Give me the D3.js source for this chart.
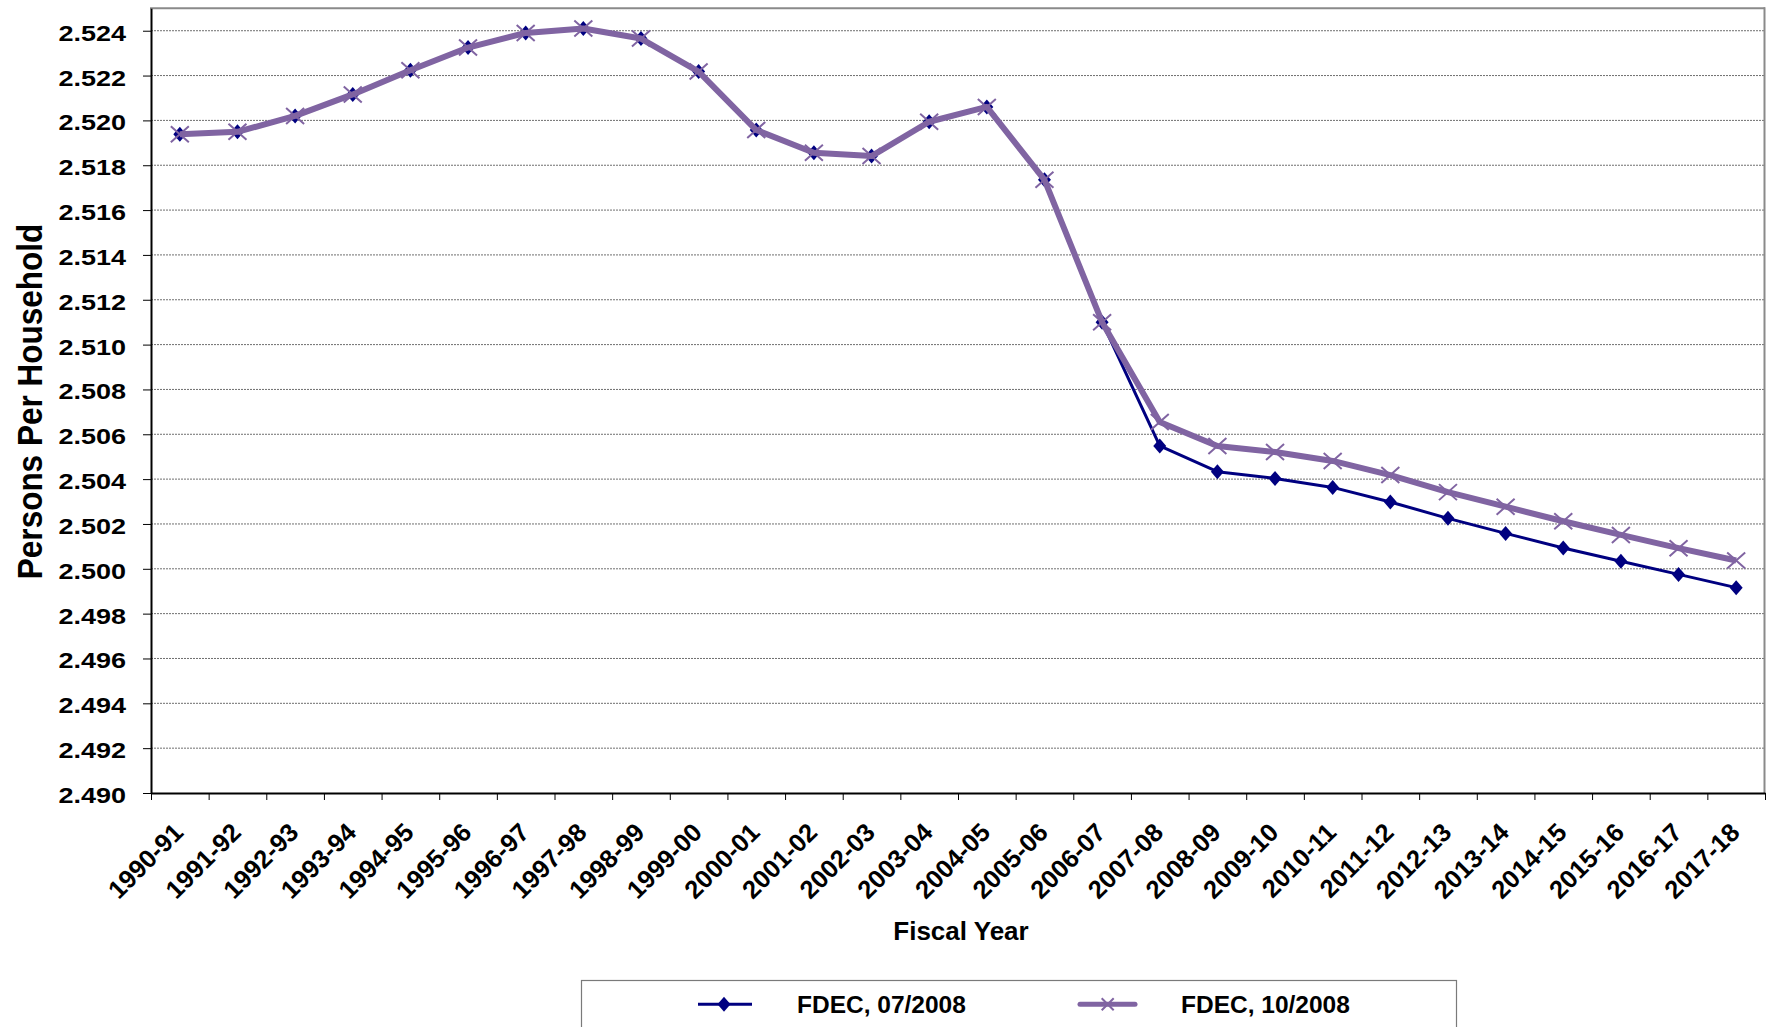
<!DOCTYPE html>
<html>
<head>
<meta charset="utf-8">
<script src="https://cdn.jsdelivr.net/npm/d3@7"></script>
<style>
  html, body { margin: 0; padding: 0; background: #fff; }
  svg { display: block; }
  text { font-family: "Liberation Sans", Arial, sans-serif; font-weight: bold; fill: #000; }
</style>
</head>
<body>
<svg id="chart" width="1769" height="1027"></svg>
<script>
const categories = ["1990-91","1991-92","1992-93","1993-94","1994-95","1995-96","1996-97","1997-98","1998-99","1999-00",
  "2000-01","2001-02","2002-03","2003-04","2004-05","2005-06","2006-07","2007-08","2008-09","2009-10",
  "2010-11","2011-12","2012-13","2013-14","2014-15","2015-16","2016-17","2017-18"];

const fdec0708 = [2.51938, 2.51949, 2.52020, 2.52116, 2.52224, 2.52325, 2.52390, 2.52410, 2.52365, 2.52218,
  2.51957, 2.51856, 2.51841, 2.51994, 2.52060, 2.51735, 2.51100, 2.50548, 2.50433, 2.50403,
  2.50363, 2.50298, 2.50225, 2.50158, 2.50093, 2.50034, 2.49975, 2.49916];

const fdec1008 = [2.51938, 2.51949, 2.52020, 2.52116, 2.52224, 2.52325, 2.52390, 2.52410, 2.52365, 2.52218,
  2.51957, 2.51856, 2.51841, 2.51994, 2.52060, 2.51735, 2.51100, 2.50655, 2.50548, 2.50521,
  2.50481, 2.50418, 2.50342, 2.50277, 2.50212, 2.50151, 2.50092, 2.50037];

const yTicks = [2.490, 2.492, 2.494, 2.496, 2.498, 2.500, 2.502, 2.504, 2.506, 2.508, 2.510,
  2.512, 2.514, 2.516, 2.518, 2.520, 2.522, 2.524];
const yDomain = [2.490, 2.525];

const seriesNames = ["FDEC, 07/2008", "FDEC, 10/2008"];
const xTitle = "Fiscal Year";
const yTitle = "Persons Per Household";

const L = 151, R = 1765, T = 8.3, B = 793;
const navy = "#000080", purple = "#8064A2";

const svg = d3.select("#chart");

const x = d3.scaleBand().domain(categories).range([L, R]);
const cx = c => x(c) + x.bandwidth() / 2;
const xb = d3.scaleLinear().domain([0, categories.length]).range([L, R]);
const y = d3.scaleLinear().domain(yDomain).range([B, T]);

// gridlines
svg.append("g").selectAll("line").data(yTicks.slice(1)).join("line")
  .attr("x1", L).attr("x2", R - 1)
  .attr("y1", d => y(d)).attr("y2", d => y(d))
  .attr("stroke", "#6f6f6f").attr("stroke-width", 1).attr("stroke-dasharray", "2,1");

// frame top/right
svg.append("line").attr("x1", L - 1).attr("x2", R).attr("y1", T).attr("y2", T)
  .attr("stroke", "#8a8a8a").attr("stroke-width", 2);
svg.append("line").attr("x1", R - 0.5).attr("x2", R - 0.5).attr("y1", T - 1).attr("y2", B)
  .attr("stroke", "#8a8a8a").attr("stroke-width", 2);

// y axis
const yAxis = svg.append("g").attr("transform", `translate(${L},0)`)
  .call(d3.axisLeft(y).tickValues(yTicks).tickFormat(d3.format(".3f")).tickSize(8).tickSizeOuter(0));
yAxis.select(".domain").attr("stroke", "#000").attr("stroke-width", 2);
yAxis.selectAll(".tick line").attr("stroke", "#000").attr("stroke-width", 1);
yAxis.selectAll(".tick text")
  .attr("font-size", 22.5).attr("font-family", "Liberation Sans, Arial, sans-serif").attr("font-weight", "bold")
  .attr("fill", "#000")
  .attr("x", -25 / 1.2).attr("dy", null).attr("y", 9.5)
  .attr("transform", "scale(1.2,1)");

// x axis ticks at boundaries
const xAxisTicks = svg.append("g").attr("transform", `translate(0,${B})`)
  .call(d3.axisBottom(xb).tickValues(d3.range(0, categories.length + 1))
    .tickFormat("").tickSize(7).tickSizeOuter(0));
xAxisTicks.select(".domain").attr("stroke", "#000").attr("stroke-width", 2);
xAxisTicks.selectAll(".tick line").attr("stroke", "#000").attr("stroke-width", 1);

// x labels
const xAxis = svg.append("g").attr("transform", `translate(0,${B})`)
  .call(d3.axisBottom(x).tickSize(0));
xAxis.select(".domain").remove();
xAxis.selectAll(".tick text")
  .attr("font-size", 25.5).attr("font-family", "Liberation Sans, Arial, sans-serif").attr("font-weight", "bold")
  .attr("fill", "#000")
  .attr("text-anchor", "end").attr("dy", null).attr("y", 0)
  .attr("transform", "translate(5,41) rotate(-45)");

// lines
const line = d3.line().x((d, i) => cx(categories[i])).y(d => y(d));

svg.append("path").datum(fdec0708).attr("d", line)
  .attr("fill", "none").attr("stroke", navy).attr("stroke-width", 3).attr("stroke-linejoin", "round");
const diamond = (px, py, w, h) => `M${px},${py - h}L${px + w},${py}L${px},${py + h}L${px - w},${py}Z`;
svg.append("g").selectAll("path").data(fdec0708).join("path")
  .attr("d", (d, i) => diamond(cx(categories[i]), y(d), 6.5, 7.5))
  .attr("fill", navy);

svg.append("path").datum(fdec1008).attr("d", line)
  .attr("fill", "none").attr("stroke", purple).attr("stroke-width", 6).attr("stroke-linejoin", "round");
const cross = (px, py, w, h) => `M${px - w},${py - h}L${px + w},${py + h}M${px - w},${py + h}L${px + w},${py - h}`;
svg.append("g").selectAll("path").data(fdec1008).join("path")
  .attr("d", (d, i) => cross(cx(categories[i]), y(d), 9, 8))
  .attr("fill", "none").attr("stroke", purple).attr("stroke-width", 2);

// axis titles
svg.append("text").attr("x", 961).attr("y", 940).attr("text-anchor", "middle")
  .attr("font-size", 26).text(xTitle);
svg.append("text").attr("transform", "translate(42,401.5) rotate(-90) scale(1,1.1)").attr("text-anchor", "middle")
  .attr("font-size", 31.5).text(yTitle);

// legend
const lg = svg.append("g");
lg.append("rect").attr("x", 581.5).attr("y", 980.5).attr("width", 875).attr("height", 80)
  .attr("fill", "#fff").attr("stroke", "#7a7a7a").attr("stroke-width", 1.2);
const ly = 1004.3;
lg.append("line").attr("x1", 698).attr("x2", 752).attr("y1", ly).attr("y2", ly)
  .attr("stroke", navy).attr("stroke-width", 3);
lg.append("path").attr("d", diamond(724, ly, 6.5, 7.5)).attr("fill", navy);
lg.append("text").attr("x", 797).attr("y", 1013).attr("font-size", 24.5).text(seriesNames[0]);
lg.append("line").attr("x1", 1080).attr("x2", 1135).attr("y1", ly).attr("y2", ly)
  .attr("stroke", purple).attr("stroke-width", 5).attr("stroke-linecap", "round");
lg.append("path").attr("d", cross(1107.7, ly, 6, 6)).attr("fill", "none").attr("stroke", purple).attr("stroke-width", 2);
lg.append("text").attr("x", 1181).attr("y", 1013).attr("font-size", 24.5).text(seriesNames[1]);
</script>
</body>
</html>
